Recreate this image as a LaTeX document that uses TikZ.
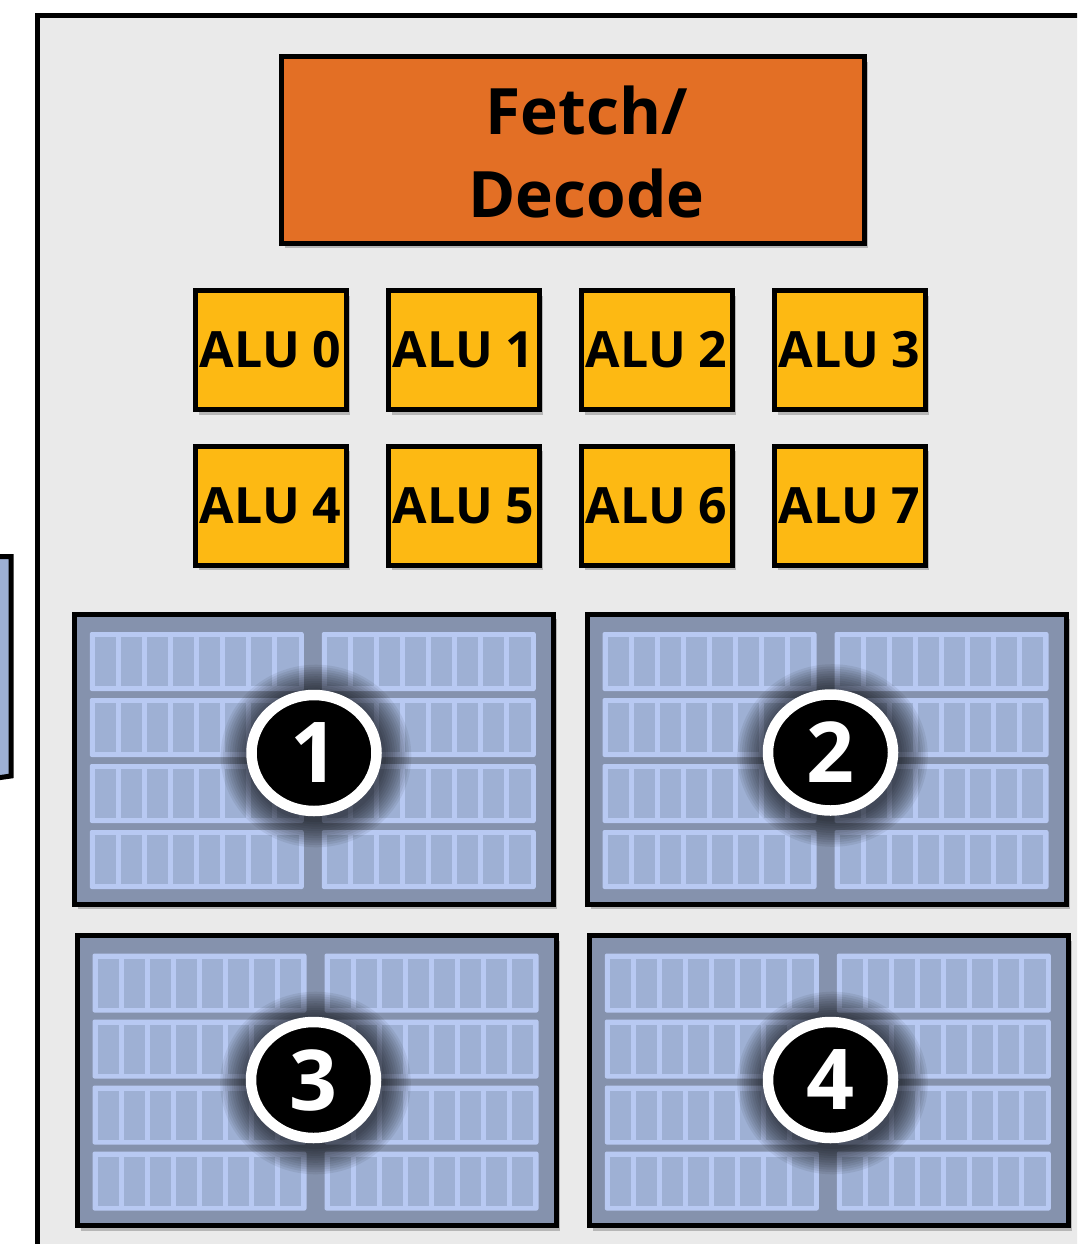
\documentclass[tikz,border=0pt]{standalone}
\usepackage{fontspec}
\setmainfont{Open Sans}
\usetikzlibrary{shadows,shapes.geometric}
\definecolor{bgcol}{HTML}{EAEAEA}
\definecolor{fetchcol}{HTML}{E36F25}
\definecolor{alucol}{HTML}{FDB913}
\definecolor{regcol}{HTML}{8592AD}
\definecolor{cellcol}{HTML}{9EB0D4}
\definecolor{stripcol}{HTML}{B8C9F2}
\definecolor{sidecol}{HTML}{9DB0D5}
\tikzset{
  boxshadow/.style={drop shadow={shadow xshift=4pt, shadow yshift=-5pt, opacity=0.22, fill=black}},
  fetchbox/.style={draw=black, line width=5pt, fill=fetchcol, minimum width=583pt, minimum height=186pt, inner sep=0pt, boxshadow},
  fetchtext/.style={font=\fontsize{64}{83}\selectfont\bfseries, align=center, inner sep=0pt},
  alubox/.style={draw=black, line width=5pt, fill=alucol, minimum width=151pt, minimum height=119pt, inner sep=0pt, boxshadow, font=\fontsize{50}{60}\selectfont\bfseries},
  regblock/.style={draw=black, line width=5pt, fill=regcol, minimum width=479pt, minimum height=290pt, inner sep=0pt, boxshadow},
  numcirc/.style={ellipse, draw=white, line width=10.5pt, fill=black, minimum width=125pt, minimum height=116pt, inner sep=0pt, text=white, font=\fontsize{84}{90}\selectfont\bfseries},
}
% #1 name, #2 cx, #3 cy, #4 number, #5 circle x, #6 circle y
\newcommand\regblk[6]{%
  \node[regblock] (#1) at (#2,#3) {};
  \foreach \r in {0,...,3} {
    \foreach \sx in {-224,8} {
      \fill[stripcol, rounded corners=2pt] ({#2+\sx},{#3-127+66*\r}) rectangle ++(214,59);
      \foreach \k in {0,...,7} {
        \fill[cellcol] ({#2+\sx+5+26.1*\k},{#3-127+66*\r+5}) rectangle ++(21.1,49);
      }
    }
  }
  \foreach \i in {0,...,11} {
    \fill[black, opacity=0.065] ({#5+2},{#6+3}) ellipse ({70+2.3*\i} and {66+2.3*\i});
  }
  \node[numcirc] (#1n) at (#5,#6) {#4};
}
\begin{document}
\begin{tikzpicture}[x=1pt,y=-1pt]
  \useasboundingbox (0,0) rectangle (1077,1244);
  \clip (0,0) rectangle (1077,1244);
  \fill[white] (0,0) rectangle (1077,1244);
  % outer frame
  \draw[line width=5pt, fill=bgcol] (37.5,16) rectangle (1110,1280);
  % partial side box at left
  \draw[line width=5pt, fill=sidecol] (-10,556.5) -- (11,556.5) -- (11,776) -- (-10,779) -- cycle;
  % fetch / decode
  \node[fetchbox] (fetch) at (572.5,150) {};
  \node[fetchtext] (fetchlabel) at (586.5,152) {Fetch/\\Decode};
  % ALUs
  \node[alubox] (alu0) at (270.5,350) {ALU 0};
  \node[alubox] (alu1) at (463.5,350) {ALU 1};
  \node[alubox] (alu2) at (656.5,350) {ALU 2};
  \node[alubox] (alu3) at (849.5,350) {ALU 3};
  \node[alubox] (alu4) at (270.5,505.5) {ALU 4};
  \node[alubox] (alu5) at (463.5,505.5) {ALU 5};
  \node[alubox] (alu6) at (656.5,505.5) {ALU 6};
  \node[alubox] (alu7) at (849.5,505.5) {ALU 7};
  % register blocks
  \regblk{reg1}{313.75}{759}{1}{314}{753}
  \regblk{reg2}{826.5}{759}{2}{830.5}{752.5}
  \regblk{reg3}{316.5}{1080.5}{3}{313.5}{1080}
  \regblk{reg4}{828.75}{1080.5}{4}{830.5}{1080}
\end{tikzpicture}
\end{document}
